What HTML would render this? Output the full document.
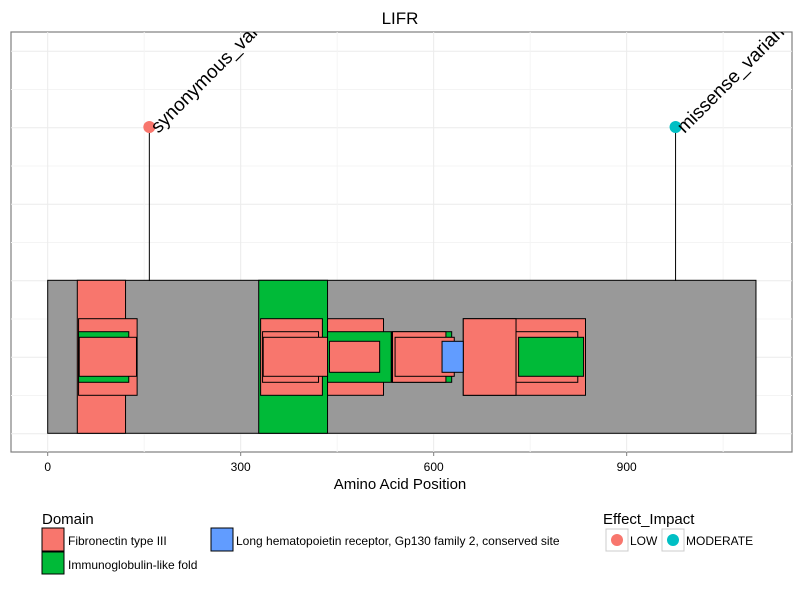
<!DOCTYPE html>
<html><head><meta charset="utf-8"><style>
body{margin:0;background:#fff;font-family:"Liberation Sans",Arial,sans-serif}
svg text{font-family:"Liberation Sans",Arial,sans-serif}
</style></head><body>
<svg id="chart" width="800" height="600" xmlns="http://www.w3.org/2000/svg">
<defs><clipPath id="pc"><rect x="11" y="32" width="781" height="420"/></clipPath></defs>
<text x="400" y="24" font-size="17" text-anchor="middle">LIFR</text>
<rect x="11" y="32" width="781" height="420" fill="#fff" stroke="#7f7f7f" stroke-width="1.2"/>
<g id="grid"></g>
<g id="marks" clip-path="url(#pc)"></g>
<g id="axis"></g>
<text x="400" y="489" font-size="15" text-anchor="middle">Amino Acid Position</text>
<g>
<text x="42" y="524" font-size="15">Domain</text>
<rect x="42" y="528" width="22" height="23" fill="#f8766d" stroke="#000" stroke-width="1"/>
<text x="68" y="545" font-size="12">Fibronectin type III</text>
<rect x="42" y="552" width="22" height="22" fill="#00ba38" stroke="#000" stroke-width="1"/>
<text x="68" y="569" font-size="12">Immunoglobulin-like fold</text>
<rect x="211" y="528" width="22" height="23" fill="#619cff" stroke="#000" stroke-width="1"/>
<text x="236" y="545" font-size="12">Long hematopoietin receptor, Gp130 family 2, conserved site</text>
</g>
<g>
<text x="603" y="524" font-size="15">Effect_Impact</text>
<rect x="606" y="529" width="22" height="22" fill="#fff" stroke="#ccc"/>
<circle cx="617" cy="540" r="6" fill="#f8766d"/>
<text x="630" y="545" font-size="12">LOW</text>
<rect x="662" y="529" width="22" height="22" fill="#fff" stroke="#ccc"/>
<circle cx="673" cy="540" r="6" fill="#00bfc4"/>
<text x="686" y="545" font-size="12">MODERATE</text>
</g>
</svg>
<script>
const xTicks=[0,300,600,900];
const xMinor=[150,450,750,1050];
const proteinLength=[0,1101];
// domain rectangles: start, end, layer, type
const domStart=[46,328, 48,331,435,646,646, 48,334,435,535,536,728, 49,335,540,732, 438,613];
const domEnd  =[121,435, 139,427,522,836,728, 126,421,534,628,619,824, 138,435,632,833, 516,646];
const domLayer=[1,1, 2,2,2,2,2, 3,3,3,3,3,3, 4,4,4,4, 5,5];
const domType =["F","I", "F","F","F","F","F", "I","F","I","I","F","F", "F","F","F","I", "F","H"];
const varPos=[158,976];
const varLabel=["synonymous_variant","missense_variant"];
const varImpact=["LOW","MODERATE"];
const varHeight=[1,1];
const NS="http://www.w3.org/2000/svg";
const x0=47.7,kx=0.6433;
function X(v){return x0+v*kx;}
function Y(h){return 281-h*154;}
const layerY={1:[280.3,433.3],2:[318.7,395.3],3:[331.7,382.3],4:[337.3,376.3],5:[341.3,372.3]};
const fill={F:"#f8766d",I:"#00ba38",H:"#619cff"};
const impColor={LOW:"#f8766d",MODERATE:"#00bfc4"};
function mk(tag,at,parent){const e=document.createElementNS(NS,tag);for(const k in at)e.setAttribute(k,at[k]);parent.appendChild(e);return e;}
const grid=document.getElementById('grid'),marks=document.getElementById('marks'),axis=document.getElementById('axis');
for(let i=0;i<11;i++){const y=51.3+i*38.24;const l=mk('line',{x1:11,x2:792,y1:y,y2:y,stroke:i%2==0?'#ebebeb':'#f4f4f4','stroke-width':1},grid);

}
xMinor.forEach(v=>{const l=mk('line',{x1:X(v),x2:X(v),y1:32,y2:452,stroke:'#f4f4f4'},grid);

});
xTicks.forEach(v=>{const l=mk('line',{x1:X(v),x2:X(v),y1:32,y2:452,stroke:'#ebebeb'},grid);


const t=mk('line',{x1:X(v),x2:X(v),y1:452,y2:456,stroke:'#7f7f7f'},axis);


const tx=mk('text',{x:X(v),y:471,'font-size':12,'text-anchor':'middle'},axis);tx.textContent=v;

});
const prot=mk('rect',{x:X(proteinLength[0]),y:280.3,width:X(proteinLength[1])-X(proteinLength[0]),height:153,fill:'#999999',stroke:'#000','stroke-width':1},marks);


varPos.forEach((p,i)=>{const l=mk('line',{x1:X(p),x2:X(p),y1:Y(varHeight[i]),y2:281,stroke:'#000','stroke-width':1},marks);

});
domStart.forEach((s,i)=>{const ly=layerY[domLayer[i]];const r=mk('rect',{x:X(s),y:ly[0],width:Math.max(0,X(domEnd[i])-X(s)),height:ly[1]-ly[0],fill:fill[domType[i]],stroke:'#000','stroke-width':1},marks);

});
varPos.forEach((p,i)=>{const c=mk('circle',{cx:X(p),cy:Y(varHeight[i]),r:6,fill:impColor[varImpact[i]]},marks);


const tx0=X(p)+9,ty0=Y(varHeight[i])+7;
const t=mk('text',{x:tx0,y:ty0,'font-size':19,transform:`rotate(-45 ${tx0} ${ty0})`},marks);t.textContent=varLabel[i];

});
</script>
</body></html>
